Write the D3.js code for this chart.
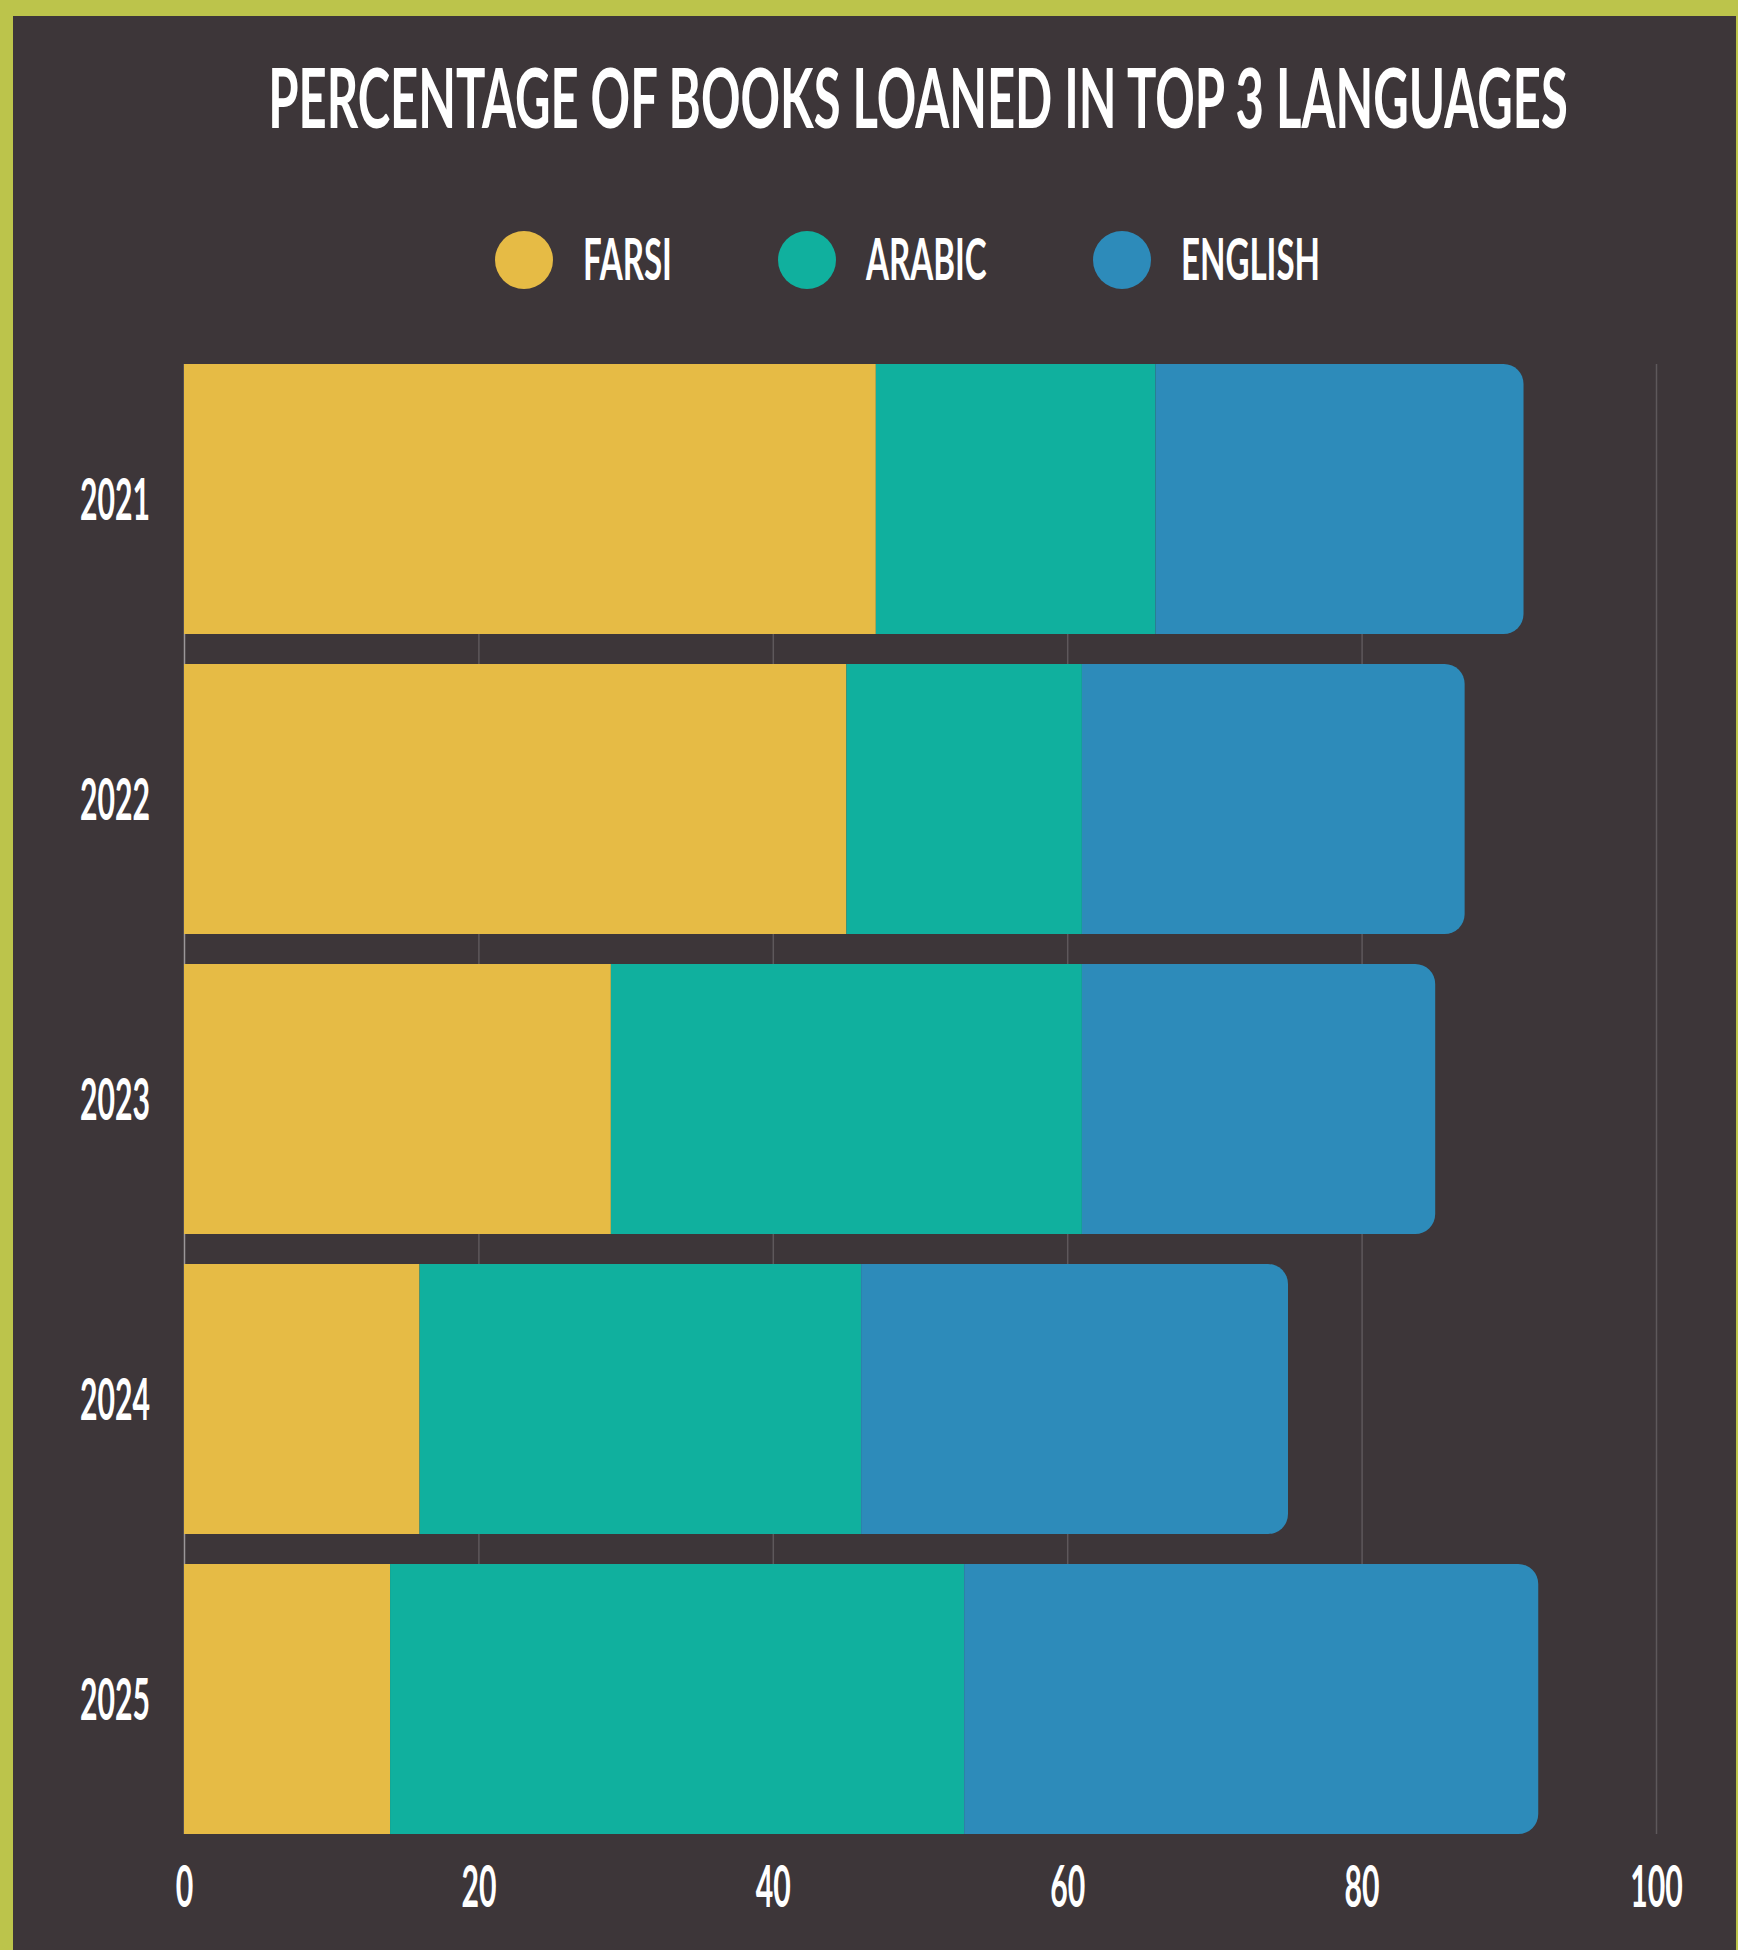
<!DOCTYPE html>
<html>
<head>
<meta charset="utf-8">
<script src="https://cdn.jsdelivr.net/npm/d3@7/dist/d3.min.js"></script>
<style>
  html, body { margin: 0; padding: 0; background: #bcc44b; }
  svg { display: block; }
</style>
</head>
<body>
<svg id="chart" width="1738" height="1950"></svg>
<script>
// Share of loans per year for the three most borrowed languages (%)
const years = ["2021", "2022", "2023", "2024", "2025"];
const languages = ["FARSI", "ARABIC", "ENGLISH"];
const farsi = [47, 45, 29, 16, 14];
const arabic = [19, 16, 32, 30, 39];
const english = [25, 26, 24, 29, 39];
const xTicks = [0, 20, 40, 60, 80, 100];
const colors = ["#e6bb45", "#10b09e", "#2d8bba"];

const W = 1738, H = 1950;
const svg = d3.select("#chart");
const FONT = "Lato, 'Open Sans', sans-serif";
const SQUEEZE = 0.53;        // horizontal compression for the narrow lettering
const LEGEND_SQUEEZE = 0.58;

// page panel with lime frame on the left, top and right
svg.append("rect").attr("width", W).attr("height", H).attr("fill", "#bcc44b");
svg.append("rect").attr("x", 13).attr("y", 16).attr("width", 1723).attr("height", H - 16)
  .attr("fill", "#3d3639");

// rows for the stack
const rows = years.map((y, i) => ({ year: y, FARSI: farsi[i], ARABIC: arabic[i], ENGLISH: english[i] }));
const series = d3.stack().keys(languages)(rows);

const x = d3.scaleLinear().domain([0, 100]).range([184, 1656]);
const y = d3.scaleBand().domain(years).range([349, 1849]).paddingInner(0.1).paddingOuter(0.05);
const color = d3.scaleOrdinal().domain(languages).range(colors);

const top0 = y(years[0]);
const bot0 = y(years[years.length - 1]) + y.bandwidth();

// vertical gridlines
svg.append("g").selectAll("line").data(xTicks).join("line")
  .attr("x1", d => x(d) + 0.5).attr("x2", d => x(d) + 0.5)
  .attr("y1", top0).attr("y2", bot0)
  .attr("stroke", d => d === 0 ? "#9b9799" : "#5e585b")
  .attr("stroke-width", 1.5);

// stacked bars; the last segment gets a rounded right end
function segPath(x0, x1, y0, y1, r) {
  const p = d3.path();
  p.moveTo(x0, y0);
  p.lineTo(x1 - r, y0);
  p.arcTo(x1, y0, x1, y0 + r, r);
  p.lineTo(x1, y1 - r);
  p.arcTo(x1, y1, x1 - r, y1, r);
  p.lineTo(x0, y1);
  p.closePath();
  return p.toString();
}

series.forEach((s, si) => {
  const last = si === series.length - 1;
  svg.append("g").attr("fill", color(s.key))
    .selectAll("path").data(s).join("path")
    .attr("d", d => segPath(x(d[0]), x(d[1]), y(d.data.year), y(d.data.year) + y.bandwidth(), last ? 20 : 0));
});

// year labels
const yAxis = svg.append("g").attr("transform", `translate(${x(0)},0)`)
  .call(d3.axisLeft(y).tickSize(0).tickPadding(0));
yAxis.select(".domain").remove();
yAxis.selectAll("text")
  .attr("font-family", FONT).attr("font-weight", 700).attr("font-size", 57).attr("fill", "#ffffff")
  .attr("text-anchor", "end")
  .attr("x", -34 / SQUEEZE).attr("dy", "0.36em")
  .attr("transform", `scale(${SQUEEZE},1)`);

// percentage axis
const xAxis = svg.append("g").attr("transform", `translate(0,${bot0})`)
  .call(d3.axisBottom(x).tickValues(xTicks).tickSize(0).tickFormat(d3.format("d")));
xAxis.select(".domain").remove();
xAxis.selectAll("text")
  .attr("font-family", FONT).attr("font-weight", 700).attr("font-size", 57).attr("fill", "#ffffff")
  .attr("y", 73).attr("dy", 0)
  .attr("transform", `scale(${SQUEEZE},1)`);

// title, squeezed horizontally to a fixed width
const titleG = svg.append("g").attr("transform", "translate(918,128)");
const title = titleG.append("text")
  .attr("text-anchor", "middle")
  .attr("font-family", FONT).attr("font-weight", 700).attr("font-size", 83)
  .attr("fill", "#ffffff")
  .text("PERCENTAGE OF BOOKS LOANED IN TOP 3 LANGUAGES");
const natural = title.node().getComputedTextLength() || 2000;
title.attr("transform", `scale(${1300 / natural},1)`);

// legend
const lg = svg.append("g").selectAll("g").data(languages).join("g")
  .attr("transform", (d, i) => `translate(${[524, 807, 1122][i]},260)`);
lg.append("circle").attr("r", 29).attr("fill", d => color(d));
lg.append("text")
  .attr("x", 59 / LEGEND_SQUEEZE).attr("y", 20)
  .attr("font-family", FONT).attr("font-weight", 700).attr("font-size", 57).attr("fill", "#ffffff")
  .attr("transform", `scale(${LEGEND_SQUEEZE},1)`)
  .text(d => d);
</script>
</body>
</html>
